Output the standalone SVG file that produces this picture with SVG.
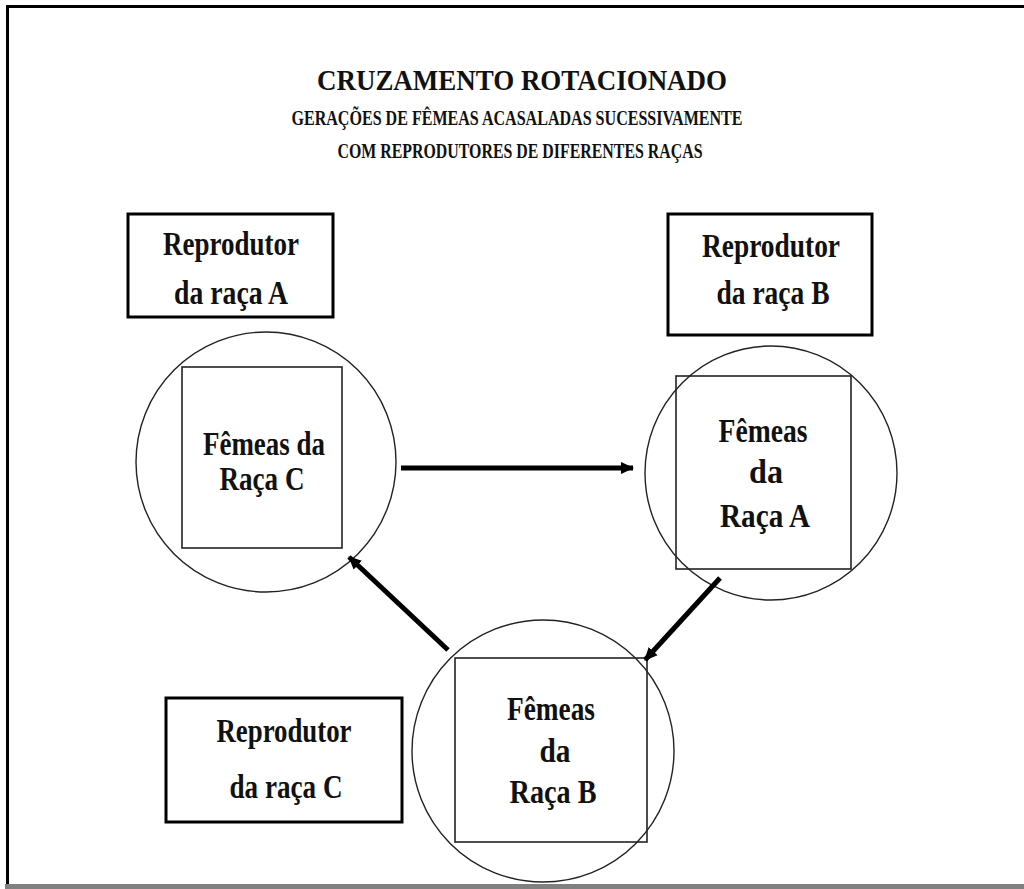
<svg xmlns="http://www.w3.org/2000/svg" width="1024" height="889" viewBox="0 0 1024 889">
  <style>
    .t { font-family: "Liberation Serif", "Times New Roman", serif; font-weight: bold; fill: #111; text-anchor: middle; }
    .lbl { font-size: 33px; }
    .box { fill: #fff; stroke: #000; stroke-width: 3; }
    .ring { fill: none; stroke: #222; stroke-width: 1.4; }
    .sq { fill: none; stroke: #222; stroke-width: 1.6; }
    .edge { stroke: #000; stroke-width: 5; fill: none; marker-end: url(#head); }
  </style>
  <defs>
    <marker id="head" markerUnits="userSpaceOnUse" markerWidth="14" markerHeight="14" refX="12" refY="7" orient="auto">
      <path d="M0,1 L13,7 L0,13 Z" fill="#000"/>
    </marker>
  </defs>

  <rect width="1024" height="889" fill="#fff"/>

  <!-- page frame -->
  <rect x="6" y="5" width="1018" height="3" fill="#000"/>
  <rect x="6" y="5" width="3" height="880" fill="#000"/>
  <rect x="5" y="884" width="1019" height="5" fill="#808080"/>

  <!-- heading -->
  <g id="title">
    <text class="t" x="522" y="90" font-size="30" textLength="410" lengthAdjust="spacingAndGlyphs">CRUZAMENTO ROTACIONADO</text>
    <text class="t" x="517" y="125" font-size="20" textLength="451" lengthAdjust="spacingAndGlyphs">GERAÇÕES DE FÊMEAS ACASALADAS SUCESSIVAMENTE</text>
    <text class="t" x="520" y="158" font-size="20" textLength="365" lengthAdjust="spacingAndGlyphs">COM REPRODUTORES DE DIFERENTES RAÇAS</text>
  </g>

  <!-- sire boxes -->
  <g id="reprodutor-a">
    <rect class="box" x="128" y="214" width="205" height="103"/>
    <text class="t lbl" x="231" y="255" textLength="136" lengthAdjust="spacingAndGlyphs">Reprodutor</text>
    <text class="t lbl" x="231" y="304" textLength="114" lengthAdjust="spacingAndGlyphs">da raça A</text>
  </g>
  <g id="reprodutor-b">
    <rect class="box" x="668" y="214" width="204" height="121"/>
    <text class="t lbl" x="771" y="257" textLength="138" lengthAdjust="spacingAndGlyphs">Reprodutor</text>
    <text class="t lbl" x="773" y="304" textLength="113" lengthAdjust="spacingAndGlyphs">da raça B</text>
  </g>
  <g id="reprodutor-c">
    <rect class="box" x="166" y="698" width="236" height="124"/>
    <text class="t lbl" x="284" y="742" textLength="135" lengthAdjust="spacingAndGlyphs">Reprodutor</text>
    <text class="t lbl" x="286" y="798" textLength="113" lengthAdjust="spacingAndGlyphs">da raça C</text>
  </g>

  <!-- female groups -->
  <g id="femeas-c">
    <circle class="ring" cx="266" cy="462" r="130"/>
    <rect class="sq" x="182" y="367" width="160" height="181"/>
    <text class="t lbl" x="264" y="455" textLength="122" lengthAdjust="spacingAndGlyphs">Fêmeas da</text>
    <text class="t lbl" x="262" y="490" textLength="85" lengthAdjust="spacingAndGlyphs">Raça C</text>
  </g>
  <g id="femeas-a">
    <ellipse class="ring" cx="771" cy="473" rx="126" ry="127"/>
    <rect class="sq" x="676" y="376" width="175" height="193"/>
    <text class="t lbl" x="763" y="442" textLength="89" lengthAdjust="spacingAndGlyphs">Fêmeas</text>
    <text class="t lbl" x="766" y="483" textLength="34" lengthAdjust="spacingAndGlyphs">da</text>
    <text class="t lbl" x="765" y="527" textLength="90" lengthAdjust="spacingAndGlyphs">Raça A</text>
  </g>
  <g id="femeas-b">
    <circle class="ring" cx="543" cy="751" r="131"/>
    <rect class="sq" x="455" y="658" width="192" height="184"/>
    <text class="t lbl" x="551" y="720" textLength="88" lengthAdjust="spacingAndGlyphs">Fêmeas</text>
    <text class="t lbl" x="555" y="762" textLength="31" lengthAdjust="spacingAndGlyphs">da</text>
    <text class="t lbl" x="553" y="803" textLength="87" lengthAdjust="spacingAndGlyphs">Raça B</text>
  </g>

  <!-- rotation arrows -->
  <g id="connectors">
    <line class="edge" x1="401" y1="468" x2="633" y2="468"/>
    <line class="edge" x1="720" y1="578" x2="645" y2="660"/>
    <line class="edge" x1="448" y1="650" x2="349" y2="557"/>
  </g>
</svg>
